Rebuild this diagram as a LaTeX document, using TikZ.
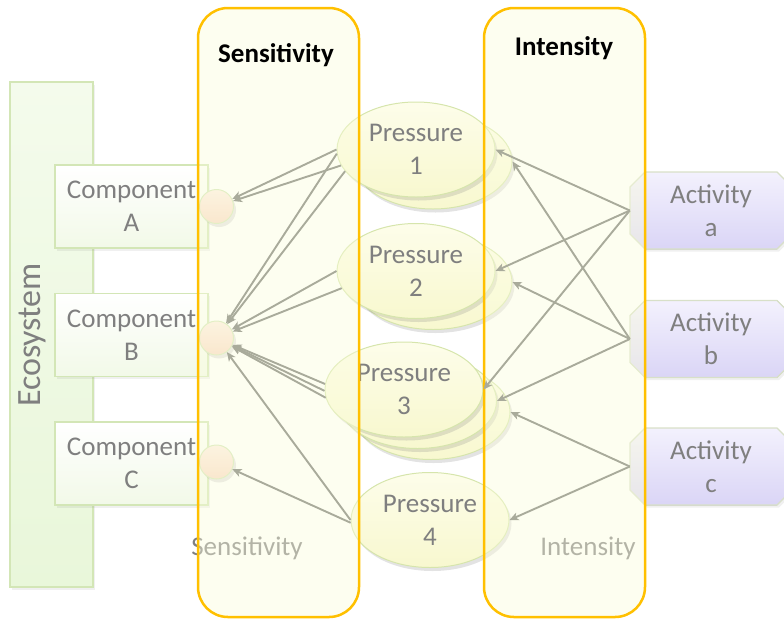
\documentclass[tikz,border=0pt]{standalone}
\usepackage{fontspec}
\setmainfont{Carlito}
\usetikzlibrary{shapes.geometric,shadows,arrows.meta}
\definecolor{txt}{HTML}{7F7F7F}
\definecolor{ecofillA}{HTML}{F4FBEC}
\definecolor{ecofillB}{HTML}{E9F7DA}
\definecolor{greenline}{HTML}{D3E6B6}
\definecolor{compB}{HTML}{F2F9E8}
\definecolor{peachA}{HTML}{FDEDE3}
\definecolor{peachB}{HTML}{F9D8C4}
\definecolor{ellA}{HTML}{FDFDEA}
\definecolor{ellB}{HTML}{F8F8CF}
\definecolor{ellline}{HTML}{D6E5AC}
\definecolor{lavA}{HTML}{F3F1FD}
\definecolor{lavB}{HTML}{DAD5F6}
\definecolor{lavline}{HTML}{D8E0C8}
\definecolor{colfill}{HTML}{FBFDDC}
\definecolor{orangeline}{HTML}{FFC000}
\definecolor{arrowc}{HTML}{A9AB9B}
\tikzset{
  every node/.style={font=\fontsize{27}{33}\selectfont, text=txt},
  shad/.style={drop shadow={opacity=0.22, shadow xshift=2.5pt, shadow yshift=-3.5pt}},
  lightshad/.style={drop shadow={opacity=0.12, shadow xshift=2pt, shadow yshift=-2.5pt}},
  ecobox/.style={draw=greenline, line width=1.2, top color=ecofillA, bottom color=ecofillB, lightshad},
  compbox/.style={draw=greenline, line width=1.2, top color=white, bottom color=compB, lightshad,
    minimum width=153, minimum height=83, align=center, inner sep=0},
  sens/.style={circle, draw=greenline, line width=1, top color=peachA, bottom color=peachB, shad,
    minimum size=34, inner sep=0},
  press/.style={ellipse, draw=ellline, line width=1, top color=ellA, bottom color=ellB, shad,
    minimum width=158, minimum height=95, inner sep=0, align=center},
  actshape/.style={draw=lavline, line width=1.2, top color=lavA, bottom color=lavB, lightshad},
  acttext/.style={minimum width=162, minimum height=77, inner sep=0, align=center},
  column/.style={draw=orangeline, line width=2.5, rounded corners=30, fill=colfill, fill opacity=0.42,
    draw opacity=1, minimum width=161, minimum height=609, inner sep=0},
  title/.style={font=\bfseries\fontsize{27}{33}\selectfont, text=black},
  conn/.style={draw=arrowc, line width=1.9, -{Stealth[length=9pt,width=8pt,inset=2.5pt]}},
}
\begin{document}
\begin{tikzpicture}[x=1pt,y=-1pt]
\useasboundingbox (0,0) rectangle (784,619);
\clip (0,0) rectangle (784,619);
% ecosystem bar
\node[ecobox, minimum width=83, minimum height=505, inner sep=0] (eco) at (51.5,334.5) {};
\node[rotate=90, font=\fontsize{34}{40}\selectfont] (ecot) at (32,335) {Ecosystem};
% components
\node[compbox] (cA) at (131.5,206.5) {Component\\A};
\node[compbox] (cB) at (131.5,335) {Component\\B};
\node[compbox] (cC) at (131.5,463.5) {Component\\C};
% sensitivity circles
\node[sens] (sA) at (216.5,206.5) {};
\node[sens] (sB) at (216.5,338) {};
\node[sens] (sC) at (216.5,462) {};
% pressures
\node[press] (p1b) at (433,161.5) {};
\node[press] (p1) at (416,149.5) {Pressure\\1};
\node[press] (p2b) at (433,282) {};
\node[press] (p2) at (416,271) {Pressure\\2};
\node[press] (p3c) at (431,412) {};
\node[press] (p3b) at (417.5,401) {};
\node[press] (p3) at (404,389.5) {Pressure\\3};
\node[press] (p4) at (430,520) {Pressure\\4};
% activities
\filldraw[actshape] (645,172) -- (777,172) -- (792,187) -- (792,234) -- (777,249) -- (645,249) -- (630,234) -- (630,187) -- cycle;
\filldraw[actshape] (645,300.5) -- (777,300.5) -- (792,315.5) -- (792,362.5) -- (777,377.5) -- (645,377.5) -- (630,362.5) -- (630,315.5) -- cycle;
\filldraw[actshape] (645,428) -- (777,428) -- (792,443) -- (792,490) -- (777,505) -- (645,505) -- (630,490) -- (630,443) -- cycle;
\node[acttext] (aA) at (711,210.5) {Activity\\a};
\node[acttext] (aB) at (711,339) {Activity\\b};
\node[acttext] (aC) at (711,466.5) {Activity\\c};
% bottom labels
\node (lS) at (247,548) {Sensitivity};
\node (lI) at (588,548) {Intensity};
% columns
\node[column] (colS) at (278.5,312.5) {};
\node[column] (colI) at (564.5,312.5) {};
% titles
\node[title] (tS) at (276,55) {Sensitivity};
\node[title] (tI) at (564,48) {Intensity};
% connectors: pressures to sensitivities
\draw[conn] (p1.180) -- (sA);
\draw[conn] (p1.192) -- (sA);
\draw[conn] (p1.183) -- (sB);
\draw[conn] (p1.197) -- (sB);
\draw[conn] (p2.180) -- (sB);
\draw[conn] (p2.193) -- (sB);
\draw[conn] (p3.176) -- (sB);
\draw[conn] (p3.181) -- (sB);
\draw[conn] (p3.186) -- (sB);
\draw[conn] (p4.180) -- (sB);
\draw[conn] (p4.182) -- (sC);
% connectors: activities to pressures
\draw[conn] (aA.west) -- (p1.east);
\draw[conn] (aA.west) -- (p2.east);
\draw[conn] (aA.west) -- (p3.east);
\draw[conn] (aB.west) -- (p1b.east);
\draw[conn] (aB.west) -- (p2b.east);
\draw[conn] (aB.west) -- (p3b.east);
\draw[conn] (aC.west) -- (p3c.east);
\draw[conn] (aC.west) -- (p4.east);
\end{tikzpicture}
\end{document}
